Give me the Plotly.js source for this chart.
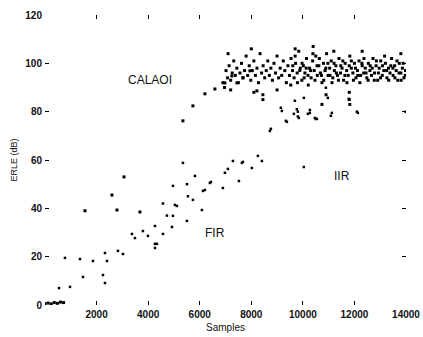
<!DOCTYPE html>
<html><head><meta charset="utf-8">
<script src="https://cdn.plot.ly/plotly-3.0.1.min.js"></script>
<style>html,body{margin:0;padding:0;background:#fff;}#chart{width:423px;height:337px;}</style>
</head><body><div id="chart"></div>
<script>
const xTicks = [2000,4000,6000,8000,10000,12000,14000];
const yTicks = [0,20,40,60,80,100,120];
const seriesNames = ["CALAOI","IIR","FIR"];

const calaoiX = [0,120,240,360,480,600,720,1550,2597,2791,3062,3682,5349,5736,6202,6589,6977,7248,7442,7675,7946,8217,
6900,6960,7020,7080,7140,7200,7260,7320,7380,7440,7500,7560,7620,7680,7740,7800,7860,7920,7980,8040,8100,8160,8220,8280,8340,8400,8460,8520,8580,8640,8700,8760,8820,8880,8940,9000,9060,9120,9180,9240,9300,9360,9420,9480,9540,9600,9660,9720,9780,9840,9900,9960,10020,10080,10140,10200,10260,10320,10380,10440,10500,10560,10620,10680,10740,10800,10860,10920,10980,11040,11100,11160,11220,11280,11340,11400,11460,11520,11580,11640,11700,11760,11820,11880,11940,12000,12060,12120,12180,12240,12300,12360,12420,12480,12540,12600,12660,12720,12780,12840,12900,12960,13020,13080,13140,13200,13260,13320,13380,13440,13500,13560,13620,13680,13740,13800,13860,13920,13980,
9530,9610,9700,9790,9880,9970,10050,10130,10210,10300,10390,10470,10550,10640,10720,10810,10890,10970,11050,11130,11210,11300,11380,11470,11550,11630,11710,11800,11880,11960,12040,12130,12210,12290,12370,12450,12530,12610,12690,12770,12850,12930,13010,13090,13170,13250,13330,13410,13490,13570,13650,13730,13810,13890,13970,
7100,8000,9700,10400,11200,12300,13800,7200,8100,9000,10900,11800,11800,11820,8450,8450,10740];
const calaoiY = [0.6,0.8,0.5,1.0,0.7,1.2,1.0,39,45.5,39.3,53,38.5,76.2,82.4,87.4,89.4,91.9,94.8,91.9,94,96.9,88.6,
92,90,97,94,99,93,96,101,95,98,92,96,100,94,97,103,95,99,93,97,101,95,98,92,104,96,99,94,97,101,95,98,93,100,96,103,94,98,95,101,97,92,99,95,102,97,94,100,96,105,98,93,99,96,102,95,98,94,101,97,103,95,99,96,92,100,97,104,95,98,101,94,97,99,95,102,96,98,93,100,97,95,103,98,96,100,94,97,101,95,99,96,98,94,100,97,95,102,96,99,93,98,101,95,97,100,94,98,96,102,95,99,97,93,100,96,98,94,97,
91,99,103,92,97,100,94,98,91,97,104,93,99,102,95,93,98,100,95,92,100,96,93,99,101,95,92,99,101,93,98,95,92,100,102,96,93,99,98,93,101,96,94,99,103,97,93,99,98,94,101,96,93,100,95,
104,106,106,107,105,105,104,89,88,89,87,88,85,83,87,85,83];

const iirX = [8721,8760,9147,9186,9341,9380,9690,9651,9767,9806,9806,9845,10039,10039,10194,10271,10271,10465,10504,10543,10892,10969,11085,11124,11783,12093,12132,13990];
const iirY = [72,72.9,81.6,80.3,76.2,75.8,84.5,79.1,81,78,80,77.4,85.7,57.1,79.1,79.5,80.7,77.4,77,77,89.9,85.7,78.3,79.5,85.3,80,79.5,80];

const firX = [543,775,969,1357,1473,1860,2248,2326,2326,2403,2829,3023,3372,3488,3798,3992,4264,4264,4264,4341,4574,4574,4729,4923,4961,4961,5039,5116,5349,5504,5504,5543,5736,5814,6085,6124,6202,6395,6434,6899,6977,7093,7287,7520,7636,7675,8023,8256,8411];
const firY = [7,19.5,7.5,19,11.6,18.2,12.4,9.1,21.5,18.2,22.4,21.1,29.4,27.7,30.6,28.6,25.3,32.7,23.6,25.3,29.4,42,37,32.3,49.3,36.9,41.4,41,58.8,50,34.8,45,43.5,53.4,39.3,47.2,47.6,50.5,50.9,48.4,54.7,56.3,59.6,51.3,58.8,59.2,56.7,61.7,59.6];

const mk = {color:'#000', size:3, symbol:'square'};
const mkSmall = {color:'#000', size:2.5, symbol:'square'};
const traces = [
  {x:calaoiX, y:calaoiY, name:seriesNames[0], mode:'markers', type:'scatter', marker:mk},
  {x:iirX, y:iirY, name:seriesNames[1], mode:'markers', type:'scatter', marker:mkSmall},
  {x:firX, y:firY, name:seriesNames[2], mode:'markers', type:'scatter', marker:mkSmall}
];
const fnt = {family:'Liberation Sans, Arial, sans-serif', size:10, color:'#111', weight:'bold'};
const annFont = {family:'Liberation Sans, Arial, sans-serif', size:12, color:'#111', weight:'normal'};
const layout = {
  width:423, height:337,
  margin:{l:45, r:17, t:15, b:32},
  paper_bgcolor:'#fff', plot_bgcolor:'#fff',
  showlegend:false,
  font:{family:'Liberation Sans, Arial, sans-serif', size:10, color:'#111'},
  xaxis:{range:[0,14000], tickvals:xTicks, ticktext:xTicks.map(String), ticks:'inside', ticklen:4, tickcolor:'#000',
    showline:true, linecolor:'#fff', mirror:'ticks', showgrid:false, zeroline:false, tickfont:fnt,
    title:{text:'Samples', font:{family:'Liberation Sans, Arial, sans-serif', size:10, color:'#111'}, standoff:4}},
  yaxis:{range:[0,120], tickvals:yTicks, ticktext:yTicks.map(String), ticks:'inside', ticklen:4, tickcolor:'#000',
    showline:true, linecolor:'#fff', mirror:'ticks', showgrid:false, zeroline:false, tickfont:fnt,
    title:{text:'ERLE (dB)', font:{family:'Liberation Sans, Arial, sans-serif', size:9, color:'#111'}, standoff:6}},
  annotations:[
    {x:4070, y:93.2, text:'CALAOI', showarrow:false, font:annFont},
    {x:6590, y:29.8, text:'FIR', showarrow:false, font:annFont},
    {x:11512, y:53.4, text:'IIR', showarrow:false, font:annFont}
  ]
};
Plotly.newPlot('chart', traces, layout, {displayModeBar:false, staticPlot:true});
</script></body></html>
